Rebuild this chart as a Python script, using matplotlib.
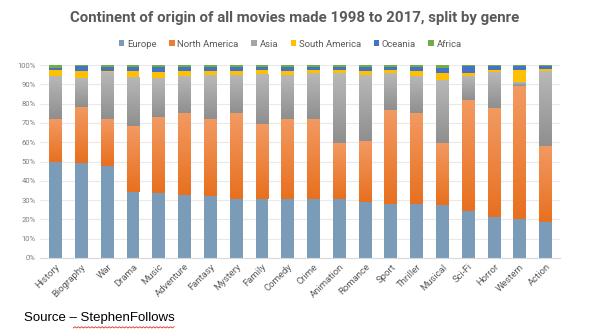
import numpy as np
import matplotlib
matplotlib.use("Agg")
import matplotlib.pyplot as plt
from matplotlib.colors import LinearSegmentedColormap
from matplotlib.patches import Patch

genres = ["History", "Biography", "War", "Drama", "Music", "Adventure", "Fantasy",
          "Mystery", "Family", "Comedy", "Crime", "Animation", "Romance", "Sport",
          "Thriller", "Musical", "Sci-Fi", "Horror", "Western", "Action"]

europe = [50.0, 49.3, 47.6, 34.3, 33.9, 32.9, 32.2, 30.8, 30.8, 30.8,
          30.8, 30.5, 29.1, 28.2, 27.9, 27.3, 24.4, 21.0, 20.4, 18.4]
north_america = [22.0, 29.1, 24.4, 34.0, 39.3, 42.0, 40.1, 44.1, 38.6, 41.5,
                 41.5, 29.2, 31.5, 48.4, 47.0, 32.4, 57.4, 57.0, 68.9, 39.7]
asia = [22.3, 14.7, 24.2, 25.6, 19.9, 19.6, 22.5, 19.9, 25.8, 22.5,
        23.5, 36.0, 34.2, 19.1, 19.6, 32.5, 12.5, 18.5, 2.0, 38.8]
south_america = [2.9, 3.9, 0.9, 3.1, 3.4, 2.3, 2.2, 2.2, 2.1, 2.2,
                 1.8, 1.5, 2.0, 1.8, 2.3, 3.5, 1.7, 1.0, 6.1, 1.0]
oceania = [1.4, 2.3, 2.0, 1.8, 2.5, 2.4, 2.2, 2.2, 1.7, 2.0,
           1.6, 2.0, 2.0, 1.7, 2.2, 2.9, 3.3, 2.0, 2.2, 1.5]
africa = [1.4, 0.7, 0.9, 1.2, 1.0, 0.8, 0.8, 0.8, 1.0, 1.0,
          0.8, 0.8, 1.2, 0.8, 1.0, 1.4, 0.7, 0.5, 0.4, 0.6]

series = [
    ("Europe", europe, "#7b9cb9", None),
    ("North America", north_america, "#ed7d31", ("#f29a62", "#e8701f")),
    ("Asia", asia, "#a5a5a5", ("#b8b8b8", "#8f8f8f")),
    ("South America", south_america, "#ffc000", None),
    ("Oceania", oceania, "#4472c4", None),
    ("Africa", africa, "#70ad47", None),
]

plt.rcParams["font.family"] = ["Roboto", "DejaVu Sans"]
text_grey = "#595959"

fig = plt.figure(figsize=(5.9, 3.32), dpi=100)
ax = fig.add_axes([0.068, 0.223, 0.881, 0.581])

x = np.arange(len(genres))
bottom = np.zeros(len(genres))
width = 0.5
for name, vals, color, grad in series:
    vals = np.asarray(vals) / 100.0
    bars = ax.bar(x, vals, width, bottom=bottom, color=color, linewidth=0,
                  zorder=2, label=name)
    if grad is not None:
        cmap = LinearSegmentedColormap.from_list(name, [grad[1], grad[0]])
        grad_img = np.linspace(0, 1, 64).reshape(-1, 1)
        for b in bars:
            x0, y0 = b.get_x(), b.get_y()
            w, h = b.get_width(), b.get_height()
            im = ax.imshow(grad_img, cmap=cmap, aspect="auto", origin="lower",
                           extent=(x0, x0 + w, y0, y0 + h), zorder=2.5,
                           interpolation="bilinear")
            im.set_clip_path(b)
    bottom = bottom + vals

ax.set_xlim(-0.6, len(genres) - 0.45)
ax.set_ylim(0, 1.0)
ax.set_yticks(np.arange(0, 1.01, 0.1))
ax.set_yticklabels([f"{int(round(v * 100))}%" for v in np.arange(0, 1.01, 0.1)],
                   fontsize=5.5, color="#7f7f7f")
ax.set_xticks(x)
ax.set_xticklabels(genres, rotation=45, ha="right", rotation_mode="anchor",
                   fontsize=6.8, color=text_grey)
ax.tick_params(axis="both", length=0, pad=3)
ax.grid(axis="y", color="#e9e9e9", linewidth=0.8, zorder=0)
for side in ["top", "right", "left"]:
    ax.spines[side].set_visible(False)
ax.spines["bottom"].set_color("#d9d9d9")
ax.spines["bottom"].set_linewidth(0.8)

fig.text(0.5, 0.947, "Continent of origin of all movies made 1998 to 2017, split by genre",
         ha="center", va="center", fontsize=10.8, fontweight="bold", color="#595959")

handles = [Patch(facecolor=c, edgecolor="none", label=n) for n, _, c, _ in series]
fig.legend(handles=handles, loc="center", bbox_to_anchor=(0.492, 0.867), ncol=6,
           frameon=False, fontsize=6.8, labelcolor=text_grey, handlelength=0.55,
           handleheight=0.55, handletextpad=0.3, columnspacing=1.35)

fig.text(0.041, 0.042, "Source \u2013 StephenFollows", ha="left", va="center",
         fontsize=9.5, family=["Liberation Sans", "DejaVu Sans"], color="black")

# spell-check squiggle under the name
zx = np.linspace(0.124, 0.295, 60)
zy = 0.012 + 0.004 * (np.arange(60) % 2)
fig.add_artist(plt.Line2D(zx, zy, color="#e03030", linewidth=0.6,
                          transform=fig.transFigure))

fig.savefig("out.png", dpi=100)
